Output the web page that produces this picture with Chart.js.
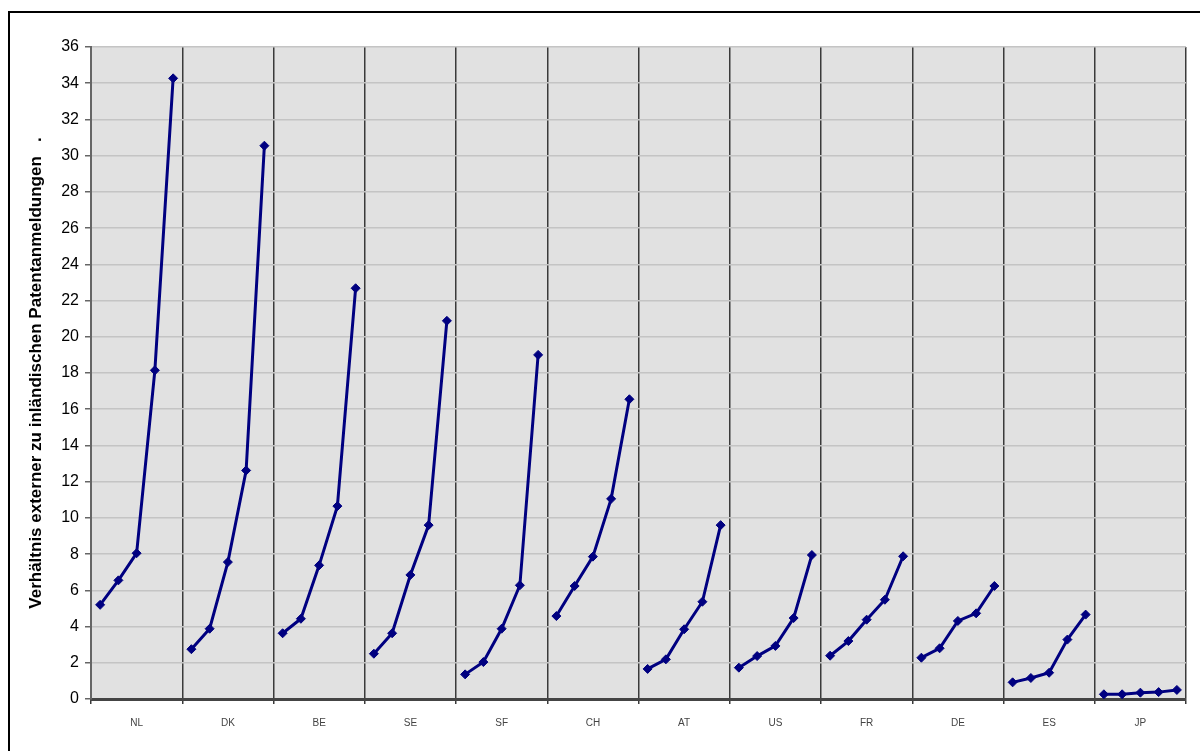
<!DOCTYPE html>
<html>
<head>
<meta charset="utf-8">
<script src="https://cdn.jsdelivr.net/npm/chart.js@4/dist/chart.umd.min.js"></script>
<style>
    html, body { margin: 0; padding: 0; background: #fff; }
    #wrap { position: relative; width: 1200px; height: 751px; }
</style>
</head>
<body>
<div id="wrap"><canvas id="patent-chart"></canvas></div>
<script>
// Länder (Kategorien) und je 5 Werte pro Land
const countries = ['NL', 'DK', 'BE', 'SE', 'SF', 'CH', 'AT', 'US', 'FR', 'DE', 'ES', 'JP'];
const nl = [5.2, 6.55, 8.05, 18.15, 34.27];
const dk = [2.75, 3.88, 7.56, 12.62, 30.55];
const be = [3.63, 4.43, 7.38, 10.65, 22.68];
const se = [2.5, 3.63, 6.85, 9.6, 20.88];
const sf = [1.36, 2.04, 3.88, 6.28, 19.0];
const ch = [4.58, 6.24, 7.86, 11.05, 16.55];
const at = [1.66, 2.19, 3.85, 5.37, 9.6];
const us = [1.73, 2.37, 2.93, 4.47, 7.95];
const fr = [2.39, 3.2, 4.38, 5.48, 7.88];
const de = [2.28, 2.8, 4.31, 4.73, 6.24];
const es = [0.92, 1.16, 1.45, 3.28, 4.66];
const jp = [0.26, 0.26, 0.35, 0.38, 0.5];
const seriesValues = [nl, dk, be, se, sf, ch, at, us, fr, de, es, jp];
const yMin = 0;
const yMax = 36;
const yStep = 2;
const yTitle = 'Verhältnis externer zu inländischen Patentanmeldungen   .';

const perGroup = 5;
const labels = [];
countries.forEach((c) => {
    for (let j = 0; j < perGroup; j++) labels.push(c + '-' + j);
});

const datasets = seriesValues.map((vals, g) => {
    const data = labels.map(() => null);
    vals.forEach((v, j) => { data[g * perGroup + j] = v; });
    return {
        label: countries[g],
        data,
        borderColor: '#000080',
        backgroundColor: '#000080',
        borderWidth: 3,
        pointStyle: 'rectRot',
        pointRadius: 4.5,
        pointBackgroundColor: '#000080',
        pointBorderColor: '#000080',
        pointBorderWidth: 1,
        spanGaps: false,
        tension: 0,
    };
});

const frame = {
    id: 'frame',
    beforeDraw(chart) {
        const { ctx, chartArea: a } = chart;
        ctx.save();
        ctx.fillStyle = '#ffffff';
        ctx.fillRect(0, 0, chart.width, chart.height);
        ctx.fillStyle = '#e1e1e1';
        ctx.fillRect(a.left, a.top, a.right - a.left, a.bottom - a.top);
        ctx.strokeStyle = '#000';
        ctx.lineWidth = 2;
        ctx.strokeRect(9, 12, 1200, 750);
        ctx.restore();
    },
};

new Chart(document.getElementById('patent-chart'), {
    type: 'line',
    data: { labels, datasets },
    plugins: [frame],
    options: {
        responsive: true,
        maintainAspectRatio: false,
        animation: false,
        layout: { padding: { left: 0, top: 47, right: 14, bottom: 0 } },
        plugins: {
            legend: { display: false },
            tooltip: { enabled: false },
        },
        scales: {
            x: {
                type: 'category',
                offset: true,
                afterFit: (scale) => { scale.height = 52; },
                grid: {
                    offset: true,
                    drawOnChartArea: true,
                    tickLength: 5,
                    lineWidth: 1.5,
                    color: (ctx) => (ctx.index === undefined || ctx.index % perGroup === 0 ? '#3a3a3a' : 'rgba(0,0,0,0)'),
                },
                border: { color: '#444', width: 3 },
                ticks: {
                    autoSkip: false,
                    maxRotation: 0,
                    minRotation: 0,
                    padding: 13,
                    color: '#444',
                    font: { family: 'Arial', size: 10 },
                    callback: (value, index) => (index % perGroup === 2 ? countries[Math.floor(index / perGroup)] : ''),
                },
            },
            y: {
                min: yMin,
                max: yMax,
                afterFit: (scale) => { scale.width = 91; },
                grid: { color: '#c4c4c4', lineWidth: 1.5, tickLength: 6, tickColor: '#666' },
                border: { color: '#666', width: 2 },
                ticks: {
                    stepSize: yStep,
                    padding: 6,
                    color: '#000',
                    font: { family: 'Arial', size: 16 },
                },
                title: {
                    display: true,
                    text: yTitle,
                    color: '#000',
                    font: { family: 'Arial', size: 17, weight: 'bold' },
                    padding: { top: 26, bottom: 0 },
                },
            },
        },
    },
});
</script>
</body>
</html>
